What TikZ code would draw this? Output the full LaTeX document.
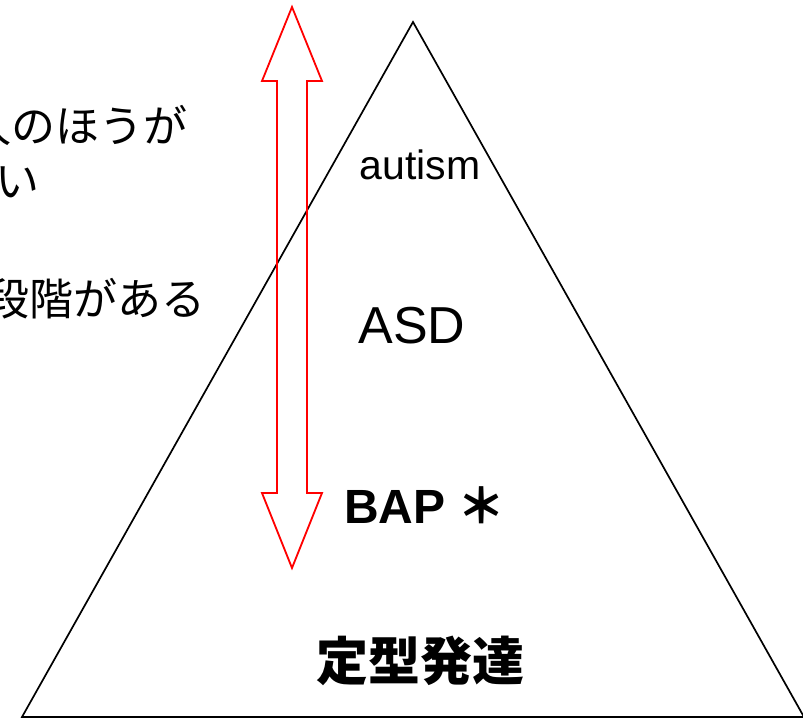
\documentclass[tikz,border=0pt]{standalone}
\usepackage{fontspec}
\setmainfont{Liberation Sans}
\newfontfamily\cjk{Noto Sans CJK JP}
\begin{document}
\begin{tikzpicture}[x=1pt,y=-1pt,
  lbl/.style={inner sep=0pt, outer sep=0pt, text=black},
  jpleft/.style={lbl, anchor=base east, font=\cjk\fontsize{44}{50}\selectfont},
  tri/.style={draw=black, line width=1.7pt, line join=miter},
  redarrow/.style={draw=red, line width=1.8pt, line join=miter}]
\useasboundingbox (0,0) rectangle (803,718);
\clip (0,0) rectangle (803,718);
\fill[white] (0,0) rectangle (803,718);
% pyramid
\coordinate (apex) at (413,22);
\coordinate (bl) at (22,717);
\coordinate (br) at (804,717);
\draw[tri] (apex) -- (br) -- (bl) -- cycle;
% red double arrow
\draw[redarrow] (292,7) -- (322,81) -- (307,81) -- (307,493) -- (322,493)
  -- (292,568) -- (262,493) -- (277,493) -- (277,81) -- (262,81) -- cycle;
% labels in pyramid
\node[lbl, anchor=base, font=\fontsize{41}{48}\selectfont] (autism) at (420,179) {autism};
\node[lbl, anchor=base, font=\fontsize{52}{60}\selectfont] (asd) at (412,343) {ASD};
\node[lbl, anchor=base west, font=\bfseries\fontsize{48}{56}\selectfont] (bap) at (344,523) {BAP\hspace{0.25em}{\cjk\bfseries ＊}};
\node[lbl, anchor=base, font=\cjk\bfseries\fontsize{52}{60}\selectfont] (typ) at (420,680) {定型発達};
% left text (cut at the picture's edge)
\node[jpleft] (l1) at (188,142) {人のほうが};
\node[jpleft, anchor=base west] (l2) at (-5,197) {い};
\node[jpleft] (l3) at (206,315) {段階がある};
\end{tikzpicture}
\end{document}
